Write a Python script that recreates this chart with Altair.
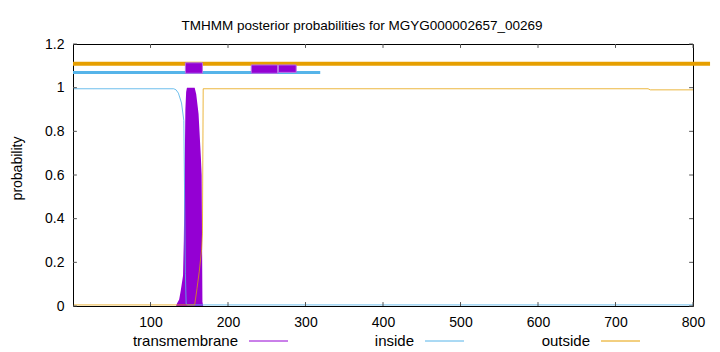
import altair as alt
import pandas as pd

# ---- data ----
inside_pos = [1, 130, 133, 136, 140, 143, 145, 146, 148, 800]
inside_val = [0.995, 0.995, 0.99, 0.975, 0.93, 0.85, 0.15, 0.01, 0.005, 0.005]

outside_pos = [1, 157, 160, 163, 166, 167, 168, 742, 745, 800]
outside_val = [0.005, 0.005, 0.08, 0.16, 0.26, 0.33, 0.995, 0.995, 0.99, 0.99]

tm_pos = [133, 134, 137, 139, 142, 143, 144, 145, 146, 147, 157, 159, 162, 165, 166, 167, 168]
tm_val = [0.0, 0.01, 0.03, 0.07, 0.14, 0.3, 0.6, 0.9, 0.98, 1.0, 1.0, 0.97, 0.88, 0.68, 0.6, 0.02, 0.0]

# topology bars
out_bar_start, out_bar_end, out_bar_y = [0], [822], [1.11]
in_bar_start, in_bar_end, in_bar_y = [0], [319], [1.07]
tm_box_start = [145, 230, 265]
tm_box_end = [167, 264, 288]
tm_box_lo = [1.066, 1.066, 1.07]
tm_box_hi = [1.114, 1.104, 1.104]

x_ticks = [100, 200, 300, 400, 500, 600, 700, 800]
y_ticks = [0, 0.2, 0.4, 0.6, 0.8, 1.0, 1.2]

legend_labels = ["transmembrane", "inside", "outside"]

PURPLE = "#9400D3"
BLUE = "#56B4E9"
ORANGE = "#E69F00"
FONT = "Liberation Sans"

W, H = 620, 262
xs = alt.Scale(domain=[0, 800], nice=False, zero=False)
ys = alt.Scale(domain=[0, 1.2], nice=False, zero=False)

xaxis = alt.Axis(values=x_ticks, ticks=False, domain=False, grid=False, labelFont=FONT,
                 labelFontSize=14, labelColor="black", labelPadding=9, labelFlush=False,
                 labelOverlap=False, title=None)
yaxis = alt.Axis(values=y_ticks, format=".1~f", ticks=False, domain=False, grid=False,
                 labelFont=FONT, labelFontSize=14, labelColor="black", labelPadding=9,
                 labelFlush=False, labelOverlap=False,
                 title="probability", titleFont=FONT, titleFontSize=14, titleFontWeight="normal",
                 titleColor="black", titleAngle=270, titleAlign="center", titleBaseline="middle",
                 titleX=-56, titleY=124)


def X(field):
    return alt.X(field, scale=xs, axis=xaxis)


def Y(field):
    return alt.Y(field, scale=ys, axis=yaxis)


tm_df = pd.DataFrame({"pos": tm_pos, "p": tm_val})
in_df = pd.DataFrame({"pos": inside_pos, "p": inside_val})
out_df = pd.DataFrame({"pos": outside_pos, "p": outside_val})

tm_area = alt.Chart(tm_df).mark_area(color=PURPLE, interpolate="linear").encode(
    x=X("pos:Q"), y=Y("p:Q"))
in_line = alt.Chart(in_df).mark_line(color=BLUE, strokeWidth=1, opacity=0.85).encode(
    x=X("pos:Q"), y=Y("p:Q"))
out_line = alt.Chart(out_df).mark_line(color=ORANGE, strokeWidth=1, opacity=0.75).encode(
    x=X("pos:Q"), y=Y("p:Q"))

out_bar = alt.Chart(pd.DataFrame({"pos": out_bar_start, "b": out_bar_end, "p": out_bar_y})).mark_rule(
    color=ORANGE, strokeWidth=4).encode(x=X("pos:Q"), x2="b:Q", y=Y("p:Q"))
in_bar = alt.Chart(pd.DataFrame({"pos": in_bar_start, "b": in_bar_end, "p": in_bar_y})).mark_rule(
    color=BLUE, strokeWidth=3).encode(x=X("pos:Q"), x2="b:Q", y=Y("p:Q"))
boxes = alt.Chart(pd.DataFrame({"pos": tm_box_start, "b": tm_box_end, "p": tm_box_lo, "hi": tm_box_hi})).mark_rect(
    color=PURPLE, stroke="#B873E6", strokeWidth=1).encode(
    x=X("pos:Q"), x2="b:Q", y=Y("p:Q"), y2="hi:Q")

# inward, mirrored ticks (gnuplot style)
tick_rows = []
for t in x_ticks:
    tick_rows.append({"pos": t, "x2": t, "p": 0, "y2": 0.018})
    tick_rows.append({"pos": t, "x2": t, "p": 1.2, "y2": 1.182})
for t in y_ticks:
    tick_rows.append({"pos": 0, "x2": 5, "p": t, "y2": t})
    tick_rows.append({"pos": 800, "x2": 795, "p": t, "y2": t})
ticks = alt.Chart(pd.DataFrame(tick_rows)).mark_rule(color="#555555", strokeWidth=1).encode(
    x=X("pos:Q"), x2="x2:Q", y=Y("p:Q"), y2="y2:Q")

# legend (gnuplot key: label, then line sample)
legend_layers = []
for i, (lab, col) in enumerate(zip(legend_labels, [PURPLE, BLUE, ORANGE])):
    xr = 165 + i * 176
    legend_layers.append(
        alt.Chart(pd.DataFrame({"label": [lab]})).mark_text(
            align="right", baseline="alphabetic", font=FONT, fontSize=15, color="black").encode(
            x=alt.value(xr), y=alt.value(302), text="label:N"))
    legend_layers.append(
        alt.Chart(pd.DataFrame({"label": [lab]})).mark_rule(color=col, strokeWidth=1).encode(
            x=alt.value(xr + 11), x2=alt.value(xr + 50), y=alt.value(297)))

chart = alt.layer(tm_area, in_line, out_line, out_bar, in_bar, boxes, ticks, *legend_layers).properties(
    width=W, height=H,
    title=alt.Title("TMHMM posterior probabilities for MGYG000002657_00269", anchor="middle", frame="group",
                    dx=-21, offset=-6, baseline="alphabetic", font=FONT, fontSize=13.5,
                    fontWeight="normal", color="black"),
    autosize=alt.AutoSizeParams(type="none"),
    padding={"left": 73, "top": 44, "right": 27, "bottom": 46},
    background="white",
).configure_view(stroke="black", strokeWidth=1)

chart.save("out.html", embed_options={"renderer": "svg", "actions": False})
